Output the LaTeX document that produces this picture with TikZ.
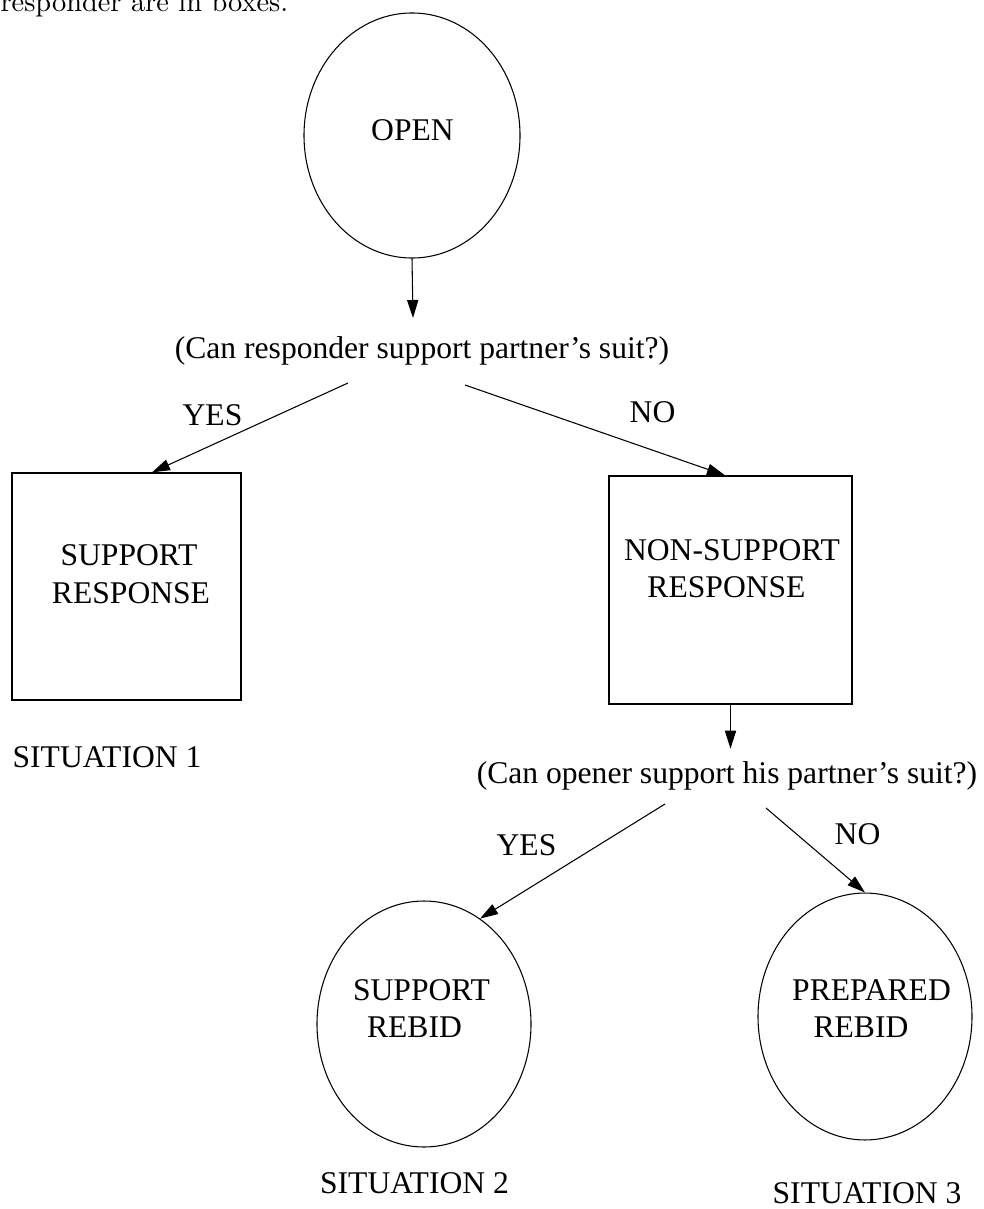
\documentclass[tikz,border=0pt]{standalone}
\usepackage{fontspec}
\newfontfamily\tms[Ligatures=TeX]{Liberation Serif}
\usetikzlibrary{arrows.meta,calc,shapes.geometric}
\tikzset{
  lbl/.style={anchor=base, inner sep=0pt, font=\tms\fontsize{11.85}{14}\selectfont},
  arr/.style={-{Triangle[length=6.75pt,width=4.2pt]}, line width=0.4pt},
  oval/.style={draw, ellipse, line width=0.4pt, inner sep=0pt},
  boxnode/.style={draw, rectangle, line width=0.5pt, inner sep=0pt}
}
\begin{document}
\begin{tikzpicture}[x=0.375pt, y=-0.375pt]
\useasboundingbox (0,0) rectangle (983,1209);

% last line of the paragraph above the figure
\node[anchor=base west, inner sep=0pt, font=\fontsize{10.65}{13}\selectfont] (lead) at (0,12) {responder are in boxes.};

% shapes
\node[oval, minimum width=81pt, minimum height=91.9pt] (open) at (412,135.5) {};
\node[boxnode, minimum width=85.9pt, minimum height=85.1pt] (box1) at (126.5,586.5) {};
\node[boxnode, minimum width=91.1pt, minimum height=85.5pt] (box2) at (730.5,590) {};
\node[oval, minimum width=80.25pt, minimum height=92.25pt] (rebid2) at (424,1024) {};
\node[oval, minimum width=80.25pt, minimum height=92.6pt] (rebid3) at (865,1016.5) {};

% texts
\node[lbl] (topen) at (412.5,140) {OPEN};
\node[lbl] (q1) at (422,358) {(Can responder support partner’s suit?)};
\node[lbl] (yes1) at (212.5,425) {YES};
\node[lbl] (no1) at (652.5,422) {NO};
\node[lbl] (b1a) at (129,565) {SUPPORT};
\node[lbl] (b1b) at (131,603) {RESPONSE};
\node[lbl] (sit1) at (107,767) {SITUATION 1};
\node[lbl] (b2a) at (732,560) {NON-SUPPORT};
\node[lbl] (b2b) at (726.5,597) {RESPONSE};
\node[lbl] (q2) at (727,783) {(Can opener support his partner’s suit?)};
\node[lbl] (yes2) at (526.5,855) {YES};
\node[lbl] (no2) at (857.5,844) {NO};
\node[lbl] (e2a) at (421.5,1000) {SUPPORT};
\node[lbl] (e2b) at (414.5,1037) {REBID};
\node[lbl] (e3a) at (871.5,1000) {PREPARED};
\node[lbl] (e3b) at (861,1037) {REBID};
\node[lbl] (sit2) at (414.5,1193) {SITUATION 2};
\node[lbl] (sit3) at (867,1203) {SITUATION 3};

% connector end points below the question lines
\coordinate (tip1) at (413,318);
\coordinate (q1l) at (348,383);
\coordinate (q1r) at (465,385);
\coordinate (q2l) at (665,804);
\coordinate (q2r) at (766,808);

% connectors
\draw[arr] (open.south) -- (tip1);
\draw[arr] (q1l) -- ($(box1.north)+(25.5,0)$);
\draw[arr] (q1r) -- ($(box2.north)+(-5.5,0)$);
\draw[arr] (box2.south) -- ++(0,44);
\draw[arr] (q2l) -- (rebid2.62.8);
\draw[arr] (q2r) -- (rebid3.north);
\end{tikzpicture}
\end{document}
